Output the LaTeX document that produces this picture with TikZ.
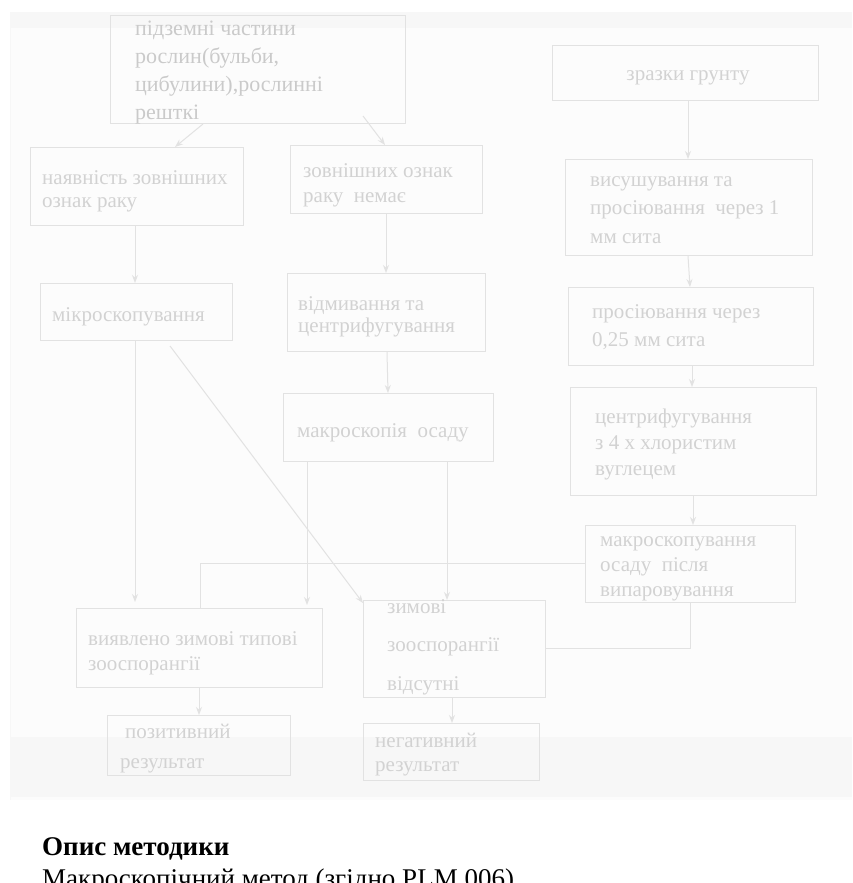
\documentclass[tikz,border=0pt]{standalone}
\usepackage{fontspec}
\setmainfont{Liberation Serif}
\usetikzlibrary{arrows.meta,calc}
\definecolor{lc}{RGB}{226,226,226}
\definecolor{tc}{RGB}{210,210,210}
\definecolor{tcd}{RGB}{202,202,202}
\definecolor{bgc}{RGB}{252,252,252}
\definecolor{bandc}{RGB}{247,247,247}
\tikzset{
  box/.style={draw=lc, line width=1pt, inner sep=0pt, anchor=north west},
  txt/.style={text=tc, align=left, anchor=base west, inner sep=0pt, font=\fontsize{21}{#1}\selectfont},
  arr/.style={draw=lc, line width=1pt, -{Stealth[length=8pt,width=6pt]}},
  ln/.style={draw=lc, line width=1pt},
}
\begin{document}
\begin{tikzpicture}[x=1pt,y=-1pt]
\useasboundingbox (0,0) rectangle (852,883);
% faint page background
\fill[bgc] (10,12) rectangle (852,800);
\fill[bandc] (10,12) rectangle (852,28);
\fill[bandc] (10,737) rectangle (852,797);
\draw[draw=bandc, line width=1pt] (10,12) -- (10,800);

% boxes
\node[box, minimum width=295pt, minimum height=108pt] (top) at (110,15) {};
\node[box, minimum width=213pt, minimum height=78pt] (nav) at (30,147) {};
\node[box, minimum width=192pt, minimum height=68pt] (zovn) at (290,145) {};
\node[box, minimum width=266pt, minimum height=55pt] (zraz) at (552,45) {};
\node[box, minimum width=247pt, minimum height=96pt] (vys) at (565,159) {};
\node[box, minimum width=245pt, minimum height=78pt] (pros) at (568,287) {};
\node[box, minimum width=246pt, minimum height=108pt] (centr) at (570,387) {};
\node[box, minimum width=210pt, minimum height=77pt] (makrb) at (585,525) {};
\node[box, minimum width=192pt, minimum height=57pt] (mikr) at (40,283) {};
\node[box, minimum width=198pt, minimum height=78pt] (vidm) at (287,273) {};
\node[box, minimum width=210pt, minimum height=68pt] (makr) at (283,393) {};
\node[box, minimum width=246pt, minimum height=79pt] (vyav) at (76,608) {};
\node[box, minimum width=182pt, minimum height=97pt] (zym) at (363,600) {};
\node[box, minimum width=183pt, minimum height=60pt] (poz) at (107,715) {};
\node[box, minimum width=176pt, minimum height=57pt] (neg) at (363,723) {};

% texts (positions are the baselines of the last lines)
\node[txt=28, text=tcd, font=\fontsize{22}{28}\selectfont] (ttop) at (135,119) {підземні частини\\рослин(бульби,\\цибулини),рослинні\\решткі};
\node[txt=23.5] (tnav) at (42,207.5) {наявність зовнішних\\ознак раку};
\node[txt=25] (tzovn) at (303,202) {зовнішних ознак\\раку\ \ немає};
\node[txt=28, anchor=base] (tzraz) at (688,81) {зразки грунту};
\node[txt=28.5] (tvys) at (590,243) {висушування та\\просіювання\ \ через 1\\мм сита};
\node[txt=28] (tpros) at (592,346) {просіювання через\\0,25 мм сита};
\node[txt=26] (tcentr) at (595,475) {центрифугування\\з 4 х хлористим\\вуглецем};
\node[txt=25] (tmakrb) at (600,596) {макроскопування\\осаду\ \ після\\випаровування};
\node[txt=25] (tmikr) at (52,321) {мікроскопування};
\node[txt=22] (tvidm) at (298,332) {відмивання та\\центрифугування};
\node[txt=25] (tmakr) at (297,437) {макроскопія\ \ осаду};
\node[txt=25] (tvyav) at (88,670) {виявлено зимові типові\\зооспорангії};
\node[txt=38.5] (tzym) at (387,690) {зимові\\зооспорангії\\відсутні};
\node[txt=30] (tpoz) at (120,768) {\hspace{5pt}позитивний\\результат};
\node[txt=24] (tneg) at (375,771) {негативний\\результат};

% connectors
\draw[arr] ($(top.south west)+(93,0)$) -- ($(nav.north west)+(145,0)$);
\draw[arr] ($(top.south west)+(253,-8)$) -- ($(zovn.north west)+(95,0)$);
\draw[arr] ($(zraz.south west)+(136,0)$) -- ($(vys.north west)+(123,0)$);
\draw[arr] ($(nav.south west)+(105,0)$) -- ($(mikr.north west)+(95,0)$);
\draw[arr] ($(zovn.south west)+(96,0)$) -- ($(vidm.north west)+(99,0)$);
\draw[arr] ($(vys.south west)+(123,0)$) -- ($(pros.north west)+(122,0)$);
\draw[arr] ($(vidm.south west)+(100,0)$) -- ($(makr.north west)+(105,0)$);
\draw[arr] ($(pros.south west)+(124,0)$) -- ($(centr.north west)+(122,0)$);
\draw[arr] ($(centr.south west)+(123,0)$) -- ($(makrb.north west)+(108,0)$);
\draw[arr] ($(mikr.south west)+(95,0)$) -- ($(vyav.north west)+(59,-6)$);
\draw[arr] ($(mikr.south west)+(130,5)$) -- ($(zym.north west)+(0,3)$);
\draw[arr] ($(makr.south west)+(24,0)$) -- ($(vyav.north west)+(231,-3)$);
\draw[arr] ($(makr.south west)+(164,0)$) -- ($(zym.north west)+(84,0)$);
\draw[ln] ($(makrb.north west)+(0,38)$) -| ($(vyav.north west)+(124,0)$);
\draw[ln] ($(makrb.south west)+(105,0)$) |- ($(zym.north east)+(0,48)$);
\draw[arr] ($(vyav.south west)+(123,0)$) -- ($(poz.north west)+(92,0)$);
\draw[arr] ($(zym.south west)+(89,0)$) -- ($(neg.north west)+(89,0)$);

% description
\node[anchor=base west, inner sep=0pt, font=\fontsize{27}{32}\selectfont\bfseries] (h) at (42,855) {Опис методики};
\node[anchor=base west, inner sep=0pt, font=\fontsize{27}{32}\selectfont] (d) at (42,887) {Макроскопічний метод (згідно PLM 006)};
\end{tikzpicture}
\end{document}
